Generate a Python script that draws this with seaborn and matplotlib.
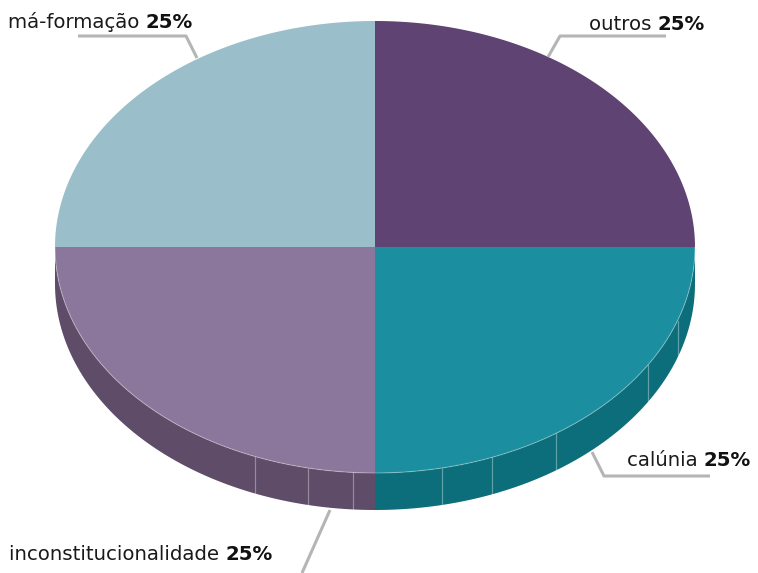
import numpy as np
import matplotlib
matplotlib.use("Agg")
import matplotlib.pyplot as plt
from matplotlib.patches import Polygon
import seaborn as sns

# Shares of each category (percent)
categories = ["outros", "calúnia", "inconstitucionalidade", "má-formação"]
values = [25, 25, 25, 25]
top_colors = ["#5f4372", "#1b8e9f", "#8c779c", "#9bbfca"]
side_colors = ["#4d3560", "#0b6e7a", "#5e4c69", "#7fa3ae"]

sns.set_theme(style="white")
plt.rcParams["font.family"] = ["DejaVu Sans"]

W, H = 758, 573
fig = plt.figure(figsize=(W / 100, H / 100), dpi=100)
ax = fig.add_axes([0, 0, 1, 1])
ax.set_xlim(0, W)
ax.set_ylim(H, 0)
ax.axis("off")

cx, cy, rx, ry, depth = 375, 247, 320, 226, 37


def pt(theta_deg):
    t = np.radians(theta_deg)
    return cx + rx * np.cos(t), cy - ry * np.sin(t)


# angles: start at 12 o'clock, go clockwise
fr = np.array(values, dtype=float) / sum(values)
starts = 90 - 360 * np.concatenate([[0], np.cumsum(fr)[:-1]])
ends = starts - 360 * fr

# side walls (only the front half, angles between -180 and 0)
for s, e, sc in zip(starts, ends, side_colors):
    lo, hi = max(e, -180), min(s, 0)
    if lo >= hi:
        continue
    th = np.linspace(lo, hi, 80)
    xs, ys = zip(*[pt(t) for t in th])
    xs, ys = np.array(xs), np.array(ys)
    poly = np.column_stack([np.r_[xs, xs[::-1]], np.r_[ys, ys[::-1] + depth]])
    ax.add_patch(Polygon(poly, closed=True, fc=sc, ec="none", zorder=1))

# thin seams on the side wall
for a in [-112, -102, -94, -78, -68.5, -55.5, -31.5, -19]:
    x, y = pt(a)
    ax.plot([x, x], [y, y + depth], color="#ffffff", alpha=0.35, lw=0.9, zorder=1.5)

# top faces
for s, e, tc in zip(starts, ends, top_colors):
    th = np.linspace(s, e, 120)
    pts = [pt(t) for t in th]
    poly = np.array([(cx, cy)] + pts)
    ax.add_patch(Polygon(poly, closed=True, fc=tc, ec="none", zorder=2))

# faint highlight along the front rim
th = np.linspace(-180, 0, 200)
rim = np.array([pt(t) for t in th])
ax.plot(rim[:, 0], rim[:, 1], color="#ffffff", alpha=0.3, lw=0.8, zorder=2.5)

# leader lines and labels
line_kw = dict(color="#b5b5b5", lw=2.2, zorder=3, solid_capstyle="butt")
ax.plot([197, 186, 78], [58, 36, 36], **line_kw)
ax.plot([548, 560, 666], [57, 36, 36], **line_kw)
ax.plot([592, 604, 710], [452, 476, 476], **line_kw)
ax.plot([330, 302], [510, 573], **line_kw)

fs = 14.2
# left edge and baseline of each label
label_pos = {
    "má-formação": (8, 28),
    "outros": (589, 30),
    "calúnia": (627, 466),
    "inconstitucionalidade": (9, 560),
}
for cat, v in zip(categories, values):
    x, y = label_pos[cat]
    t = ax.text(x, y, cat + " ", fontsize=fs, color="#1a1a1a",
                va="baseline", ha="left")
    fig.canvas.draw()
    bb = t.get_window_extent()
    ax.annotate(f"{v}%", xy=(bb.x1, H - y), xycoords="figure pixels", fontsize=fs,
                fontweight="bold", color="#111111", va="baseline", ha="left")

fig.savefig("out.png", dpi=100)
